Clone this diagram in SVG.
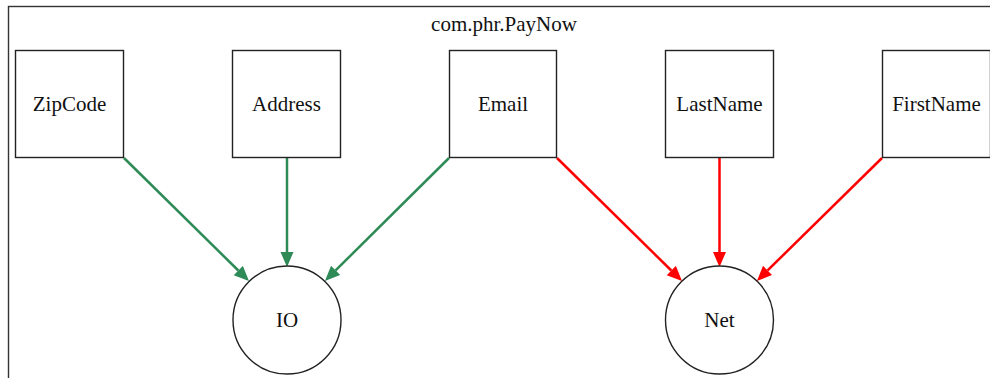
<svg xmlns="http://www.w3.org/2000/svg" width="990" height="378" viewBox="0 0 990 378">
  <style>
    .frame { fill: none; stroke: #333; stroke-width: 1.4; }
    .box { fill: #fff; stroke: #222; stroke-width: 1.4; }
    .lbl { font-family: "Liberation Serif", "Times New Roman", serif; font-size: 21px; fill: #111; text-anchor: middle; }
    .title { font-family: "Liberation Serif", "Times New Roman", serif; font-size: 21px; fill: #111; text-anchor: middle; }
    .io { fill: none; stroke: #2e8b57; stroke-width: 2.5; }
    .net { fill: none; stroke: #ff0000; stroke-width: 2.5; }
  </style>
  <defs>
    <marker id="arrowGreen" markerUnits="userSpaceOnUse" markerWidth="17" markerHeight="14" refX="0" refY="7" orient="auto" viewBox="0 0 17 14">
      <path d="M0,0.5 L15,7 L0,13.5 z" fill="#2e8b57"/>
    </marker>
    <marker id="arrowRed" markerUnits="userSpaceOnUse" markerWidth="17" markerHeight="14" refX="0" refY="7" orient="auto" viewBox="0 0 17 14">
      <path d="M0,0.5 L15,7 L0,13.5 z" fill="#ff0000"/>
    </marker>
  </defs>

  <rect width="990" height="378" fill="#fff"/>

  <!-- package cluster -->
  <g id="cluster_PayNow">
    <rect class="frame" x="8.5" y="6.5" width="1000" height="400"/>
    <text class="title" x="504" y="31">com.phr.PayNow</text>
  </g>

  <!-- connectors -->
  <g id="edges">
    <path class="io" d="M124,158 L238.3,270.5" marker-end="url(#arrowGreen)"/>
    <path class="io" d="M287,158 L287,252" marker-end="url(#arrowGreen)"/>
    <path class="io" d="M449,158 L335.6,270.4" marker-end="url(#arrowGreen)"/>
    <path class="net" d="M557,158 L671.3,270.5" marker-end="url(#arrowRed)"/>
    <path class="net" d="M719.5,158 L719.5,252" marker-end="url(#arrowRed)"/>
    <path class="net" d="M882,158 L767.6,270.4" marker-end="url(#arrowRed)"/>
  </g>

  <!-- source nodes -->
  <g id="ZipCode">
    <rect class="box" x="15.5" y="50.5" width="108" height="107"/>
    <text class="lbl" x="69.5" y="111">ZipCode</text>
  </g>
  <g id="Address">
    <rect class="box" x="232.5" y="50.5" width="108" height="107"/>
    <text class="lbl" x="286.5" y="111">Address</text>
  </g>
  <g id="Email">
    <rect class="box" x="449.5" y="50.5" width="107" height="107"/>
    <text class="lbl" x="503" y="111">Email</text>
  </g>
  <g id="LastName">
    <rect class="box" x="665.5" y="50.5" width="108" height="107"/>
    <text class="lbl" x="719.5" y="111">LastName</text>
  </g>
  <g id="FirstName">
    <rect class="box" x="882.5" y="50.5" width="108" height="107"/>
    <text class="lbl" x="936.5" y="111">FirstName</text>
  </g>

  <!-- sink nodes -->
  <g id="IO">
    <circle class="box" cx="287" cy="320" r="54"/>
    <text class="lbl" x="287" y="327">IO</text>
  </g>
  <g id="Net">
    <circle class="box" cx="719.5" cy="320" r="54"/>
    <text class="lbl" x="719.5" y="327">Net</text>
  </g>
</svg>
